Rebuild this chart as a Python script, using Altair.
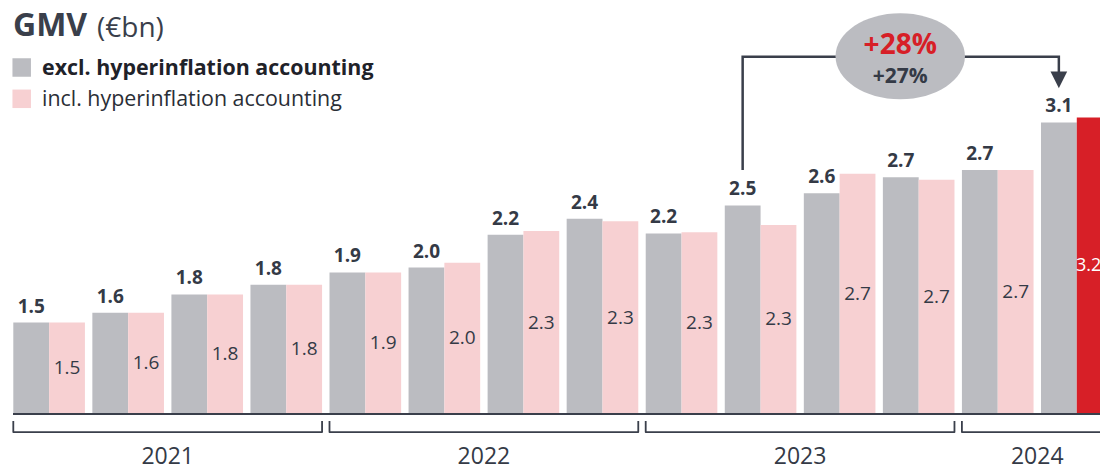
import altair as alt
import pandas as pd

# ---------------- data ----------------
quarters = ["Q1 21", "Q2 21", "Q3 21", "Q4 21",
            "Q1 22", "Q2 22", "Q3 22", "Q4 22",
            "Q1 23", "Q2 23", "Q3 23", "Q4 23",
            "Q1 24", "Q2 24"]
excl_values = [1.50, 1.58, 1.73, 1.81, 1.91, 1.95, 2.22, 2.35, 2.23, 2.46, 2.56, 2.69, 2.75, 3.14]
incl_values = [1.50, 1.58, 1.73, 1.81, 1.91, 1.99, 2.25, 2.33, 2.24, 2.30, 2.72, 2.67, 2.75, 3.18]
excl_labels = ["1.5", "1.6", "1.8", "1.8", "1.9", "2.0", "2.2", "2.4", "2.2", "2.5", "2.6", "2.7", "2.7", "3.1"]
incl_labels = ["1.5", "1.6", "1.8", "1.8", "1.9", "2.0", "2.3", "2.3", "2.3", "2.3", "2.7", "2.7", "2.7", "3.2"]
years = ["2021", "2022", "2023", "2024"]
year_first_q = [0, 4, 8, 12]
year_last_q = [3, 7, 11, 13]
legend_labels = ["excl. hyperinflation accounting", "incl. hyperinflation accounting"]
growth_incl = "+28%"
growth_excl = "+27%"
from_q = 9   # Q2 2023
to_q = 13    # Q2 2024

# ---------------- style ----------------
FONT = "Open Sans"
DARK = "#343a46"
GRAY = "#bbbcc1"
PINK = "#f7d0d2"
RED = "#d71f27"
BASE = 0.75
YDOM = [BASE, BASE + 406 / 122]
PAD_IN = 0.094
BAND_FRAC = 1 - PAD_IN
W = 1092
H = 459
SERIES = ["excl", "incl"]

yscale = alt.Scale(domain=YDOM, range=[406, 0], zero=False, nice=False)
xband = alt.Scale(domain=quarters, range=[5.3, 1104.6], paddingInner=PAD_IN, paddingOuter=0)
xoff = alt.Scale(domain=SERIES, paddingInner=0, paddingOuter=0)
xnum = alt.Scale(domain=[0, 14], range=[5.3, 5.3 + 14 * 79.05], zero=False, nice=False)

# ---------------- tables ----------------
rows = []
for i, q in enumerate(quarters):
    rows.append(dict(quarter=q, series="excl", value=excl_values[i], label=excl_labels[i], key="excl"))
    rows.append(dict(quarter=q, series="incl", value=incl_values[i], label=incl_labels[i],
                     key="last" if i == len(quarters) - 1 else "incl"))
bars_df = pd.DataFrame(rows)
bars_df["base"] = BASE
bars_df["mid"] = (bars_df["value"] + BASE) / 2

X = alt.X("quarter:N", sort=quarters, scale=xband, axis=None)
XO = alt.XOffset("series:N", sort=SERIES, scale=xoff)
Yv = alt.Y("value:Q", scale=yscale, axis=None)
Ym = alt.Y("mid:Q", scale=yscale, axis=None)

bars = alt.Chart(bars_df).mark_bar().encode(
    x=X, xOffset=XO, y=Yv, y2="base:Q",
    color=alt.Color("key:N", scale=alt.Scale(domain=["excl", "incl", "last"], range=[GRAY, PINK, RED]), legend=None),
)

excl_text = alt.Chart(bars_df[bars_df.series == "excl"]).mark_text(
    font=FONT, fontSize=19, fontWeight="bold", color=DARK, baseline="alphabetic", dy=-10
).encode(x=X, xOffset=XO, y=Yv, text="label:N")

incl_text = alt.Chart(bars_df[bars_df.key == "incl"]).mark_text(
    font=FONT, fontSize=19, baseline="middle", color=DARK
).encode(x=X, xOffset=XO, y=Ym, text="label:N")

last_text = alt.Chart(bars_df[bars_df.key == "last"]).mark_text(
    font=FONT, fontSize=18, baseline="middle", color="white", dx=-6
).encode(x=X, xOffset=XO, y=Ym, text="label:N")

axis_line = alt.Chart(pd.DataFrame({"b": [BASE]})).mark_rule(color="#3a3f4b", strokeWidth=2).encode(
    y=alt.Y("b:Q", scale=yscale, axis=None), x=alt.value(5), x2=alt.value(W)
)

# year brackets
br = []
for y, a, b in zip(years, year_first_q, year_last_q):
    end = b + BAND_FRAC if y != years[-1] else b + 1.6
    pts = [(a, 0.693), (a, 0.602), (end, 0.602), (end, 0.693)]
    for k, (px, py) in enumerate(pts):
        br.append(dict(year=y, o=k, xn=px, yv=py))
br_df = pd.DataFrame(br)
XN = alt.X("xn:Q", scale=xnum, axis=None)
YN = alt.Y("yv:Q", scale=yscale, axis=None)
brackets = alt.Chart(br_df).mark_line(color="#3a3f4b", strokeWidth=1.8, strokeJoin="round").encode(
    x=XN, y=YN, detail="year:N", order="o:Q",
)
yl_df = pd.DataFrame({"year": years,
                      "xn": [(a + b + BAND_FRAC) / 2 for a, b in zip(year_first_q, year_last_q)],
                      "yv": [0.34] * len(years)})
year_text = alt.Chart(yl_df).mark_text(font=FONT, fontSize=23, color=DARK, baseline="alphabetic").encode(
    x=XN, y=YN, text="year:N"
)

# growth connector
cx_from = from_q + BAND_FRAC / 4
cx_to = to_q + BAND_FRAC / 4
conn_df = pd.DataFrame({"o": [0, 1, 2, 3],
                        "xn": [cx_from, cx_from, cx_to, cx_to],
                        "yv": [2.75, 3.679, 3.679, 3.545]})
connector = alt.Chart(conn_df).mark_line(color="#3a3f4b", strokeWidth=2.5).encode(x=XN, y=YN, order="o:Q")
arrow = alt.Chart(pd.DataFrame({"xn": [cx_to], "yv": [3.488]})).mark_point(
    shape="M-1,-1L1,-1L0,1Z", size=279, filled=True, opacity=1, color="#3a3f4b"
).encode(x=XN, y=YN)

ell_path = ("M-1,0C-1,-0.367,-0.552,-0.665,0,-0.665C0.552,-0.665,1,-0.367,1,0"
            "C1,0.367,0.552,0.665,0,0.665C-0.552,0.665,-1,0.367,-1,0Z")
ell_x = 11.22
ellipse = alt.Chart(pd.DataFrame({"xn": [ell_x], "yv": [3.682]})).mark_point(
    shape=ell_path, size=16744, filled=True, opacity=1, color=GRAY, strokeWidth=0
).encode(x=XN, y=YN)
g_df = pd.DataFrame({"xn": [ell_x, ell_x], "yv": [3.701, 3.461], "t": [growth_incl, growth_excl]})
g1 = alt.Chart(g_df.iloc[[0]]).mark_text(font=FONT, fontSize=28, fontWeight="bold", color=RED,
                                          baseline="alphabetic").encode(x=XN, y=YN, text="t:N")
g2 = alt.Chart(g_df.iloc[[1]]).mark_text(font=FONT, fontSize=21, fontWeight="bold", color=DARK,
                                          baseline="alphabetic").encode(x=XN, y=YN, text="t:N")

# title
one = pd.DataFrame({"a": [0]})
title1 = alt.Chart(one).mark_text(text="GMV", font=FONT, fontSize=32, fontWeight="bold", color="#3a3f4b",
                                  align="left", baseline="alphabetic").encode(x=alt.value(5), y=alt.value(28))
title2 = alt.Chart(one).mark_text(text="(€bn)", font=FONT, fontSize=28, color="#3a3f4b",
                                  align="left", baseline="alphabetic").encode(x=alt.value(89), y=alt.value(29))

# legend
leg_sq1 = alt.Chart(one).mark_square(size=342, color=GRAY, opacity=1).encode(x=alt.value(13.7), y=alt.value(59.5))
leg_sq2 = alt.Chart(one).mark_square(size=342, color=PINK, opacity=1).encode(x=alt.value(13.7), y=alt.value(90.8))
leg_t1 = alt.Chart(one).mark_text(text=legend_labels[0], font=FONT, fontSize=21.4, fontWeight="bold", color="#1f2229",
                                  align="left", baseline="alphabetic").encode(x=alt.value(34), y=alt.value(67))
leg_t2 = alt.Chart(one).mark_text(text=legend_labels[1], font=FONT, fontSize=21.4, color="#2a2e36",
                                  align="left", baseline="alphabetic").encode(x=alt.value(34), y=alt.value(98))

chart = alt.layer(
    bars, axis_line, excl_text, incl_text, last_text, brackets, year_text,
    connector, arrow, ellipse, g1, g2,
    title1, title2, leg_sq1, leg_sq2, leg_t1, leg_t2,
).resolve_scale(x="independent").properties(
    width=W, height=H, autosize=alt.AutoSizeParams(type="none"), padding=0
).configure_view(stroke=None)

chart.save("out.html", embed_options={"renderer": "svg", "actions": False})
